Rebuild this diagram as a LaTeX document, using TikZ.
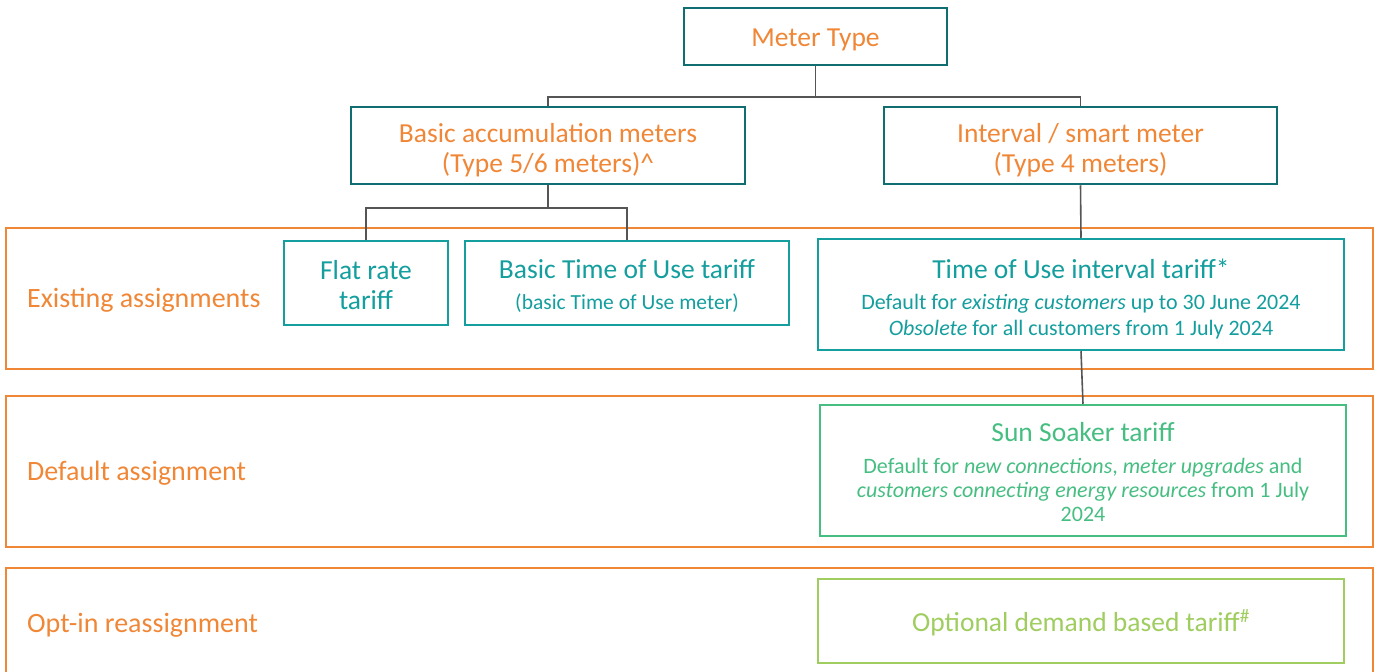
\documentclass[tikz,border=0pt]{standalone}
\usepackage{fontspec}
\setmainfont{Carlito}
\definecolor{orng}{RGB}{240,135,55}
\definecolor{dteal}{RGB}{16,110,112}
\definecolor{teal2}{RGB}{20,158,158}
\definecolor{grn}{RGB}{70,190,130}
\definecolor{lgrn}{RGB}{160,205,95}
\definecolor{conn}{RGB}{85,85,85}
\tikzset{
  topbox/.style={draw=dteal, line width=2.5pt, fill=white, text=orng, align=center, inner sep=0pt,
    font=\fontsize{27.5}{30}\selectfont},
  tarbox/.style={draw=teal2, line width=2.5pt, fill=white, text=teal2, align=center, inner sep=0pt,
    font=\fontsize{27.5}{30}\selectfont},
  band/.style={draw=orng, line width=1.2pt},
  bandlabel/.style={anchor=west, text=orng, inner sep=0pt, font=\fontsize{28}{30}\selectfont},
  link/.style={draw=conn, line width=1.6pt},
}
\newcommand{\subtxt}{\fontsize{22}{25}\selectfont}
\newcommand{\tp}[1]{\rule{0pt}{#1}}
\begin{document}
\begin{tikzpicture}[x=1pt,y=-1pt]
\useasboundingbox (0,0) rectangle (1379,672);
% bands
\draw[band] (6,228) rectangle (1373,369);
\draw[band] (6,396) rectangle (1373,547);
\draw[band] (6,685) -- (6,568) -- (1373,568) -- (1373,685);
\node[bandlabel] (l1) at (27,300) {Existing assignments};
\node[bandlabel] (l2) at (27,473) {Default assignment};
\node[bandlabel] (l3) at (27,625) {Opt-in reassignment};
% boxes
\node[topbox, minimum width=263pt, minimum height=57pt] (mt) at (815.5,36.5) {\tp{24pt}Meter Type};
\node[topbox, minimum width=394pt, minimum height=77pt] (ba) at (548,145.5) {\tp{28pt}Basic accumulation meters\\(Type 5/6 meters)\^{}};
\node[topbox, minimum width=393pt, minimum height=77pt] (iv) at (1080.5,145.5) {\tp{28pt}Interval / smart meter\\(Type 4 meters)};
\node[tarbox, minimum width=164pt, minimum height=84pt] (fr) at (366,283) {\tp{22.5pt}Flat rate\\tariff};
\node[tarbox, minimum width=324pt, minimum height=84pt] (bt) at (627,283) {\tp{25pt}Basic Time of Use tariff\\[1pt]{\fontsize{21.5}{24}\selectfont (basic Time of Use meter)}};
\node[tarbox, minimum width=526pt, minimum height=111pt] (ti) at (1081,294.5) {\tp{28pt}Time of Use interval tariff*\\[1pt]{\subtxt Default for \textit{existing customers} up to 30 June 2024}\\[-4pt]{\subtxt \textit{Obsolete} for all customers from 1 July 2024}};
\node[tarbox, draw=grn, text=grn, minimum width=526pt, minimum height=131pt] (ss) at (1083,470.5) {\tp{22.5pt}Sun Soaker tariff\\[2pt]{\subtxt Default for \textit{new connections}, \textit{meter upgrades} and}\\[-6pt]{\subtxt \textit{customers connecting energy resources} from 1 July}\\[-6pt]{\subtxt 2024}};
\node[tarbox, draw=lgrn, text=lgrn, minimum width=526pt, minimum height=84pt] (od) at (1081,621) {\tp{25pt}Optional demand based tariff\textsuperscript{\#}};
% connectors
\draw[link] (mt.south) -- ++(0,31) -| (ba.north);
\draw[link] (mt.south) -- ++(0,31) -| (iv.north);
\draw[link] (ba.south) -- ++(0,23) -| (fr.north);
\draw[link] (ba.south) -- ++(0,23) -| (bt.north);
\draw[link] (iv.south) -- (ti.north);
\draw[link] (ti.south) -- (ss.north);
\end{tikzpicture}
\end{document}
